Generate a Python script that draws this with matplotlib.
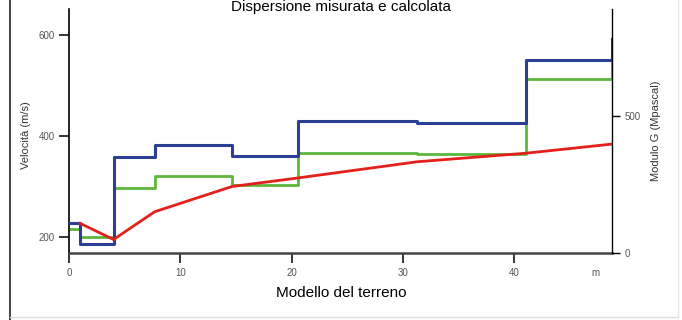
import numpy as np
import matplotlib
matplotlib.use('Agg')
import matplotlib.pyplot as plt
from matplotlib.lines import Line2D

plt.rcParams['font.family'] = ['Liberation Sans', 'DejaVu Sans']

# step profiles (depth in m, velocity in m/s)
step_x = [0, 1, 4, 7.7, 14.65, 20.6, 31.3, 41.1, 48.8, 48.8]
blue_v = [227, 187, 358, 382, 360, 430, 425, 550, 550, 592]
green_v = [216, 199, 298, 321, 303, 367, 364, 512, 550, 550]

# calculated curve
red_x = [1, 4, 7.7, 14.65, 20.6, 31.3, 41.1, 48.8]
red_v = [227, 195, 250, 300, 317, 349, 366, 384]

xticks = [0, 10, 20, 30, 40]
title = 'Dispersione misurata e calcolata'

fig = plt.figure(figsize=(6.82, 3.2), dpi=100)
ax = fig.add_axes([69/682, 1 - 253/320, (612 - 69)/682, (253 - 9)/320])

ax.step(step_x, green_v, where='post', color='#5cb83a', lw=2.0, zorder=2)
ax.step(step_x, blue_v, where='post', color='#2b3f94', lw=2.2, zorder=3)
ax.plot(red_x, red_v, color='#e3201c', lw=2.0, zorder=4)

ax.set_xlim(0, 48.8)
ax.set_ylim(168.3, 651.5)
ax.set_yticks([200, 400, 600])
ax.set_xticks(xticks)
ax.set_xticks([47.3], ['m'], minor=True)

ax.spines['top'].set_visible(False)
ax.spines['right'].set_visible(False)
ax.spines['left'].set_linewidth(1.2)
ax.spines['bottom'].set_linewidth(1.8)
ax.spines['bottom'].set_color('#444444')

ax.tick_params(axis='both', which='major', direction='out', length=7, width=1.1,
               labelsize=7, labelcolor='#555555', pad=3)
ax.tick_params(axis='x', which='major', length=7, pad=4)
ax.tick_params(axis='x', which='minor', length=0, pad=11, labelsize=7, labelcolor='#555555')

ax2 = ax.twinx()
ax2.set_ylim(0, 890.5)
ax2.set_yticks([0, 500])
for s in ['top', 'left', 'bottom']:
    ax2.spines[s].set_visible(False)
ax2.spines['right'].set_linewidth(1.0)
ax2.tick_params(axis='y', direction='out', length=6, width=1.0, labelsize=7,
                labelcolor='#555555', pad=3)

fig.text(0.5, 1.0, title, ha='center', va='top', fontsize=11)
fig.text(0.5, 1 - 293/320, 'Modello del terreno', ha='center', va='center', fontsize=11)
fig.text(26/682, 1 - 135/320, 'Velocità (m/s)', ha='center', va='center',
         rotation=90, fontsize=8, color='#333333')
fig.text(656/682, 1 - 131/320, 'Modulo G (Mpascal)', ha='center', va='center',
         rotation=90, fontsize=8, color='#333333')

# page frame
fig.add_artist(Line2D([10/682, 10/682], [0, 1], color='#222222', lw=1.2))
fig.add_artist(Line2D([10/682, 678/682], [1 - 317/320, 1 - 317/320], color='#dddddd', lw=1.0))
fig.add_artist(Line2D([678/682, 678/682], [1 - 317/320, 1], color='#e6e6e6', lw=1.0))

fig.savefig('out.png', dpi=100)
